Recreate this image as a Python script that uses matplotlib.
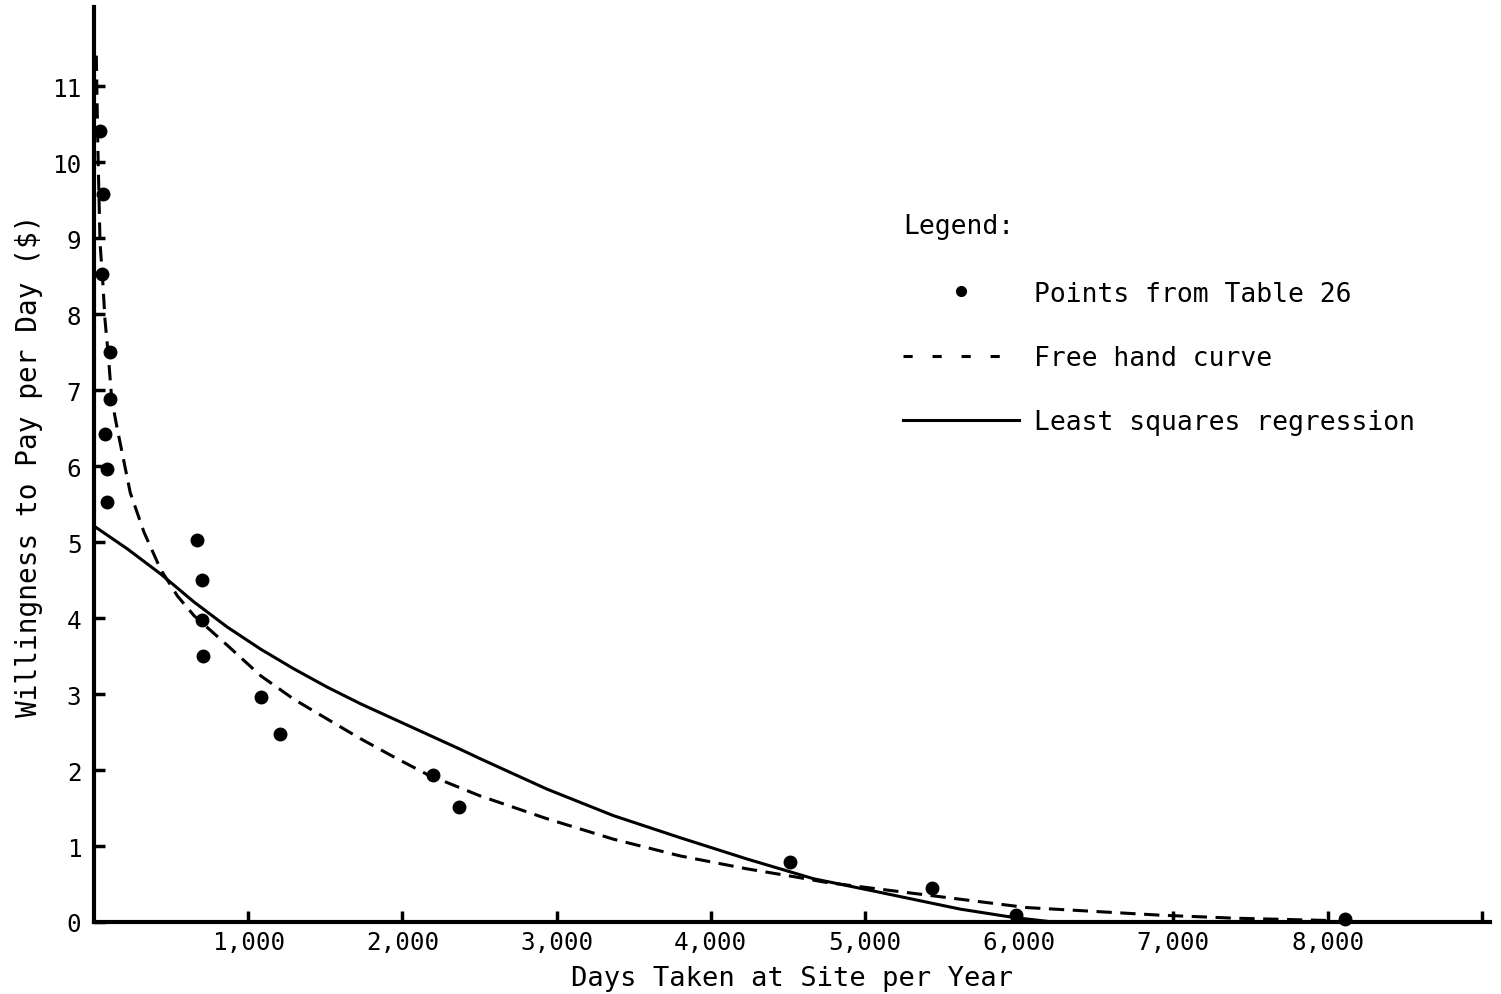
import matplotlib
matplotlib.use("Agg")
import matplotlib.pyplot as plt
from matplotlib.lines import Line2D

# ---- data ----
point_days = [39, 60, 50, 104, 104, 71, 82, 82, 666, 698, 698, 709, 1081, 1206,
              2200, 2369, 4514, 5436, 5980, 8113]
point_wtp = [10.41, 9.58, 8.53, 7.50, 6.88, 6.42, 5.96, 5.52, 5.03, 4.50, 3.98, 3.50,
             2.96, 2.47, 1.93, 1.51, 0.79, 0.45, 0.09, 0.04]

freehand_days = [15, 25, 39, 56, 71, 93, 115, 147, 190, 235, 324, 432, 541, 649, 865,
                 1081, 1297, 1513, 1730, 1946, 2162, 2503, 2936, 3368, 3800, 4233,
                 4557, 4751, 5184, 5616, 6048, 6481, 6913, 7400, 8000]
freehand_wtp = [11.4, 10.2, 8.94, 8.46, 7.93, 7.45, 6.88, 6.53, 6.10, 5.65, 5.13, 4.64,
                4.29, 4.03, 3.64, 3.24, 2.93, 2.67, 2.41, 2.17, 1.94, 1.66, 1.36, 1.09,
                0.87, 0.70, 0.59, 0.52, 0.41, 0.30, 0.19, 0.14, 0.09, 0.05, 0.02]

regression_days = [0, 216, 432, 649, 865, 1081, 1297, 1513, 1730, 1946, 2162, 2378,
                   2503, 2936, 3368, 3800, 4233, 4665, 5097, 5616, 5962, 6220]
regression_wtp = [5.21, 4.91, 4.58, 4.21, 3.88, 3.59, 3.33, 3.09, 2.87, 2.67, 2.47, 2.27,
                  2.15, 1.75, 1.40, 1.11, 0.83, 0.57, 0.39, 0.17, 0.06, 0.0]

x_ticks = [1000, 2000, 3000, 4000, 5000, 6000, 7000, 8000, 9000]
x_tick_labels = ["1,000", "2,000", "3,000", "4,000", "5,000", "6,000", "7,000", "8,000", ""]
y_ticks = [0, 1, 2, 3, 4, 5, 6, 7, 8, 9, 10, 11]
y_tick_labels = [str(v) for v in y_ticks]

x_label = "Days Taken at Site per Year"
y_label = "Willingness to Pay per Day ($)"
legend_title = "Legend:"
legend_labels = ["Points from Table 26", "Free hand curve", "Least squares regression"]

# ---- drawing ----
plt.rcParams['font.family'] = ['DejaVu Sans Mono']

W, H = 1501, 995
fig = plt.figure(figsize=(W / 100, H / 100), dpi=100)
ax = fig.add_axes([94 / W, (H - 923) / H, (1490 - 94) / W, (923 - 8) / H])

ax.set_xlim(0, 9053)
ax.set_ylim(0, 12.04)

ax.plot(regression_days, regression_wtp, color='black', lw=2.2, solid_capstyle='butt',
        solid_joinstyle='round')
ax.plot(freehand_days, freehand_wtp, color='black', lw=2.2, linestyle=(0, (5, 2.8)))
ax.plot(point_days, point_wtp, linestyle='none', marker='o', markersize=9,
        color='black', clip_on=False)

for s in ['top', 'right']:
    ax.spines[s].set_visible(False)
for s in ['left', 'bottom']:
    ax.spines[s].set_linewidth(3)

ax.set_xticks(x_ticks)
ax.set_xticklabels(x_tick_labels)
ax.set_yticks(y_ticks)
ax.set_yticklabels(y_tick_labels)
ax.tick_params(axis='both', direction='in', length=8, width=2.5, labelsize=17.5)
ax.tick_params(axis='x', pad=6)
ax.tick_params(axis='y', pad=9)

ax.set_xlabel(x_label, fontsize=19.5, labelpad=8)
ax.set_ylabel(y_label, fontsize=20, labelpad=7)

handles = [
    Line2D([], [], linestyle='none', marker='o', markersize=7, color='black'),
    Line2D([], [], color='black', lw=2.2, linestyle=(0, (3, 6.5))),
    Line2D([], [], color='black', lw=2.2),
]
leg = ax.legend(handles, legend_labels, title=legend_title, loc='upper left',
                bbox_to_anchor=(903 / W, 1 - 214 / H), bbox_transform=fig.transFigure,
                frameon=False, fontsize=19, title_fontsize=19, alignment='left',
                handlelength=4.4, handletextpad=0.55, labelspacing=1.45,
                borderpad=0, borderaxespad=0)
leg._legend_box.sep = 30

fig.savefig("out.png", dpi=100)
